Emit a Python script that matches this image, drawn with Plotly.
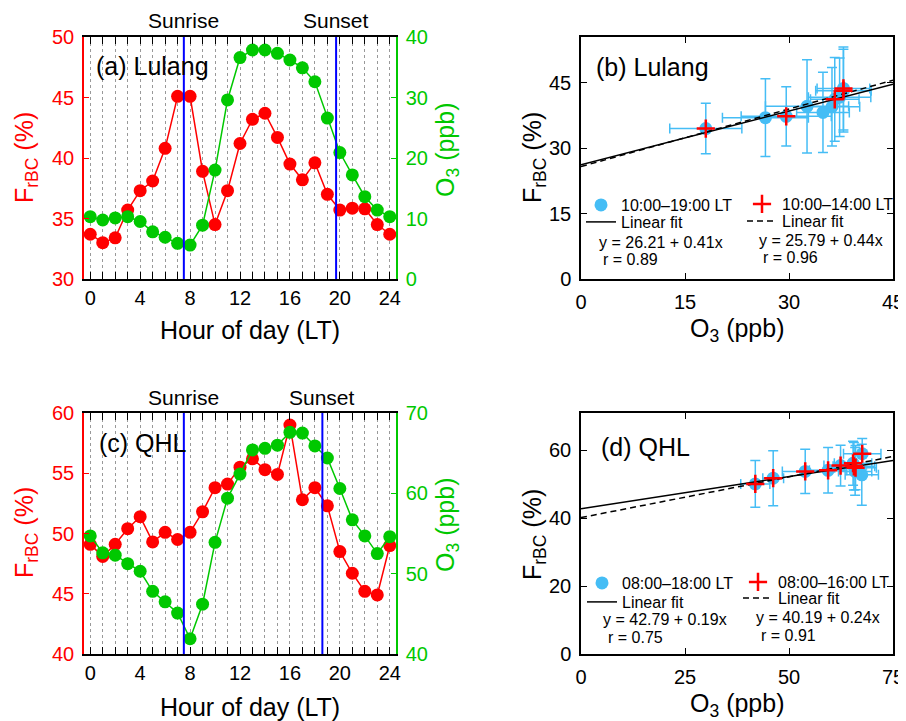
import plotly.graph_objects as go

OFF = 8  # page body margin of the written html
W, H = 906 - OFF, 721 - OFF  # figure reaches the right / bottom edge of the window


def px(x):
    return (x - OFF) / W


def py(y):
    return 1 - (y - OFF) / H


FONT = "Arial, Liberation Sans, sans-serif"
RED = "#FF0000"
GREEN = "#00C800"
BLUE = "#0000FF"
SKY = "#45BDF5"
GRID = "#999999"

# ---------------- data ----------------
hours = list(range(25))
hour_ticks = [0, 4, 8, 12, 16, 20, 24]
hour_labels = ["0", "4", "8", "12", "16", "20", "24"]

# (a) Lulang diurnal cycles
frbc_lulang = [33.7, 33.0, 33.4, 35.7, 37.3, 38.1, 40.8, 45.1, 45.1, 38.9, 34.5, 37.3, 41.2,
               43.2, 43.7, 41.7, 39.5, 38.2, 39.6, 37.0, 35.7, 35.85, 35.8, 34.5, 33.7]
o3_lulang = [10.3, 9.75, 10.1, 10.3, 9.5, 7.8, 6.9, 5.9, 5.6, 8.9, 18.0, 29.6, 36.6,
             37.85, 37.85, 37.3, 36.2, 34.9, 32.6, 26.6, 20.9, 17.2, 13.6, 11.4, 10.3]
sun_lulang = [7.5, 19.7]  # sunrise, sunset (hour)

# (c) QHL diurnal cycles
frbc_qhl = [49.1, 48.1, 49.1, 50.4, 51.4, 49.3, 50.1, 49.5, 50.1, 51.8, 53.8, 54.1, 55.5,
            56.2, 55.3, 54.9, 59.0, 52.8, 53.8, 52.3, 48.5, 46.7, 45.2, 44.9, 49.0]
o3_qhl = [54.7, 52.6, 52.3, 51.25, 50.3, 47.8, 46.5, 45.1, 41.9, 46.2, 53.9, 59.4, 62.4,
          65.4, 65.6, 66.0, 67.6, 67.5, 65.9, 64.4, 60.6, 56.7, 54.7, 52.5, 54.6]
sun_qhl = [7.5, 18.6]

# (b) Lulang scatter: 10:00-19:00 LT (blue) and 10:00-14:00 LT (red)
o3_b_all = [18.0, 29.6, 36.6, 37.85, 37.85, 37.3, 36.2, 34.9, 32.6, 26.6]
frbc_b_all = [34.5, 37.3, 41.2, 43.2, 43.7, 41.7, 39.5, 38.2, 39.6, 37.0]
o3_b_err = [5.2, 6.5, 3.5, 4.0, 3.8, 4.5, 4.0, 3.8, 6.0, 6.2]
frbc_b_err = [5.8, 6.8, 9.6, 9.5, 9.5, 9.0, 9.0, 9.2, 10.7, 8.9]
o3_b_sub = [18.0, 29.6, 36.6, 37.85, 37.85]
frbc_b_sub = [34.5, 37.3, 41.2, 43.2, 43.7]
fit_b_all = [26.21, 0.41]  # intercept, slope
fit_b_sub = [25.79, 0.44]
fit_b_x = [0, 45]

# (d) QHL scatter: 08:00-18:00 LT (blue) and 08:00-16:00 LT (red)
o3_d_all = [41.9, 46.2, 53.9, 59.4, 62.4, 65.4, 65.6, 66.0, 67.6, 67.5, 65.9]
frbc_d_all = [50.1, 51.8, 53.8, 54.1, 55.5, 56.2, 55.3, 54.9, 59.0, 52.8, 53.8]
o3_d_err = [3.5, 2.5, 5.5, 4.5, 4.0, 4.5, 5.0, 5.0, 4.5, 4.0, 4.0]
frbc_d_err = [6.9, 8.1, 6.5, 6.7, 6.0, 6.5, 7.0, 6.5, 4.5, 9.0, 7.0]
o3_d_sub = [41.9, 46.2, 53.9, 59.4, 62.4, 65.4, 65.6, 66.0, 67.6]
frbc_d_sub = [50.1, 51.8, 53.8, 54.1, 55.5, 56.2, 55.3, 54.9, 59.0]
fit_d_all = [42.79, 0.19]
fit_d_sub = [40.19, 0.24]
fit_d_x = [0, 75]

fig = go.Figure()


def diurnal(x, y, color, xa, ya):
    fig.add_trace(go.Scatter(
        x=x, y=y, mode="lines+markers", xaxis=xa, yaxis=ya, showlegend=False,
        line=dict(color=color, width=1.5),
        marker=dict(color=color, size=13), cliponaxis=False))


diurnal(hours, frbc_lulang, RED, "x", "y")
diurnal(hours, o3_lulang, GREEN, "x", "y2")
diurnal(hours, frbc_qhl, RED, "x3", "y4")
diurnal(hours, o3_qhl, GREEN, "x3", "y5")

DASH = "6px,4px"


def scatter_panel(xa, ya, ox, fy, ex, ey, sx, sy, fit_all, fit_sub, fx, lab_all, lab_sub, lgs):
    fig.add_trace(go.Scatter(
        x=ox, y=fy, mode="markers", xaxis=xa, yaxis=ya, name=lab_all, legend=lgs[0],
        marker=dict(color=SKY, size=13),
        error_x=dict(type="data", array=ex, color=SKY, thickness=1.5, width=5),
        error_y=dict(type="data", array=ey, color=SKY, thickness=1.5, width=5)))
    fig.add_trace(go.Scatter(
        x=fx, y=[fit_all[0] + fit_all[1] * v for v in fx], mode="lines", xaxis=xa, yaxis=ya,
        name="Linear fit", legend=lgs[1],
        line=dict(color="black", width=1.5)))
    fig.add_trace(go.Scatter(
        x=fx, y=[fit_sub[0] + fit_sub[1] * v for v in fx], mode="lines", xaxis=xa, yaxis=ya,
        name="Linear fit", legend=lgs[3],
        line=dict(color="black", width=1.5, dash=DASH)))
    fig.add_trace(go.Scatter(
        x=sx, y=sy, mode="markers", xaxis=xa, yaxis=ya, name=lab_sub, legend=lgs[2],
        marker=dict(symbol="cross-thin", size=13, color=RED, line=dict(color=RED, width=2.5))))


scatter_panel("x2", "y3", o3_b_all, frbc_b_all, o3_b_err, frbc_b_err, o3_b_sub, frbc_b_sub,
              fit_b_all, fit_b_sub, fit_b_x, "10:00–19:00 LT", "10:00–14:00 LT",
              ["legend", "legend2", "legend3", "legend4"])
scatter_panel("x4", "y6", o3_d_all, frbc_d_all, o3_d_err, frbc_d_err, o3_d_sub, frbc_d_sub,
              fit_d_all, fit_d_sub, fit_d_x, "08:00–18:00 LT", "08:00–16:00 LT",
              ["legend5", "legend6", "legend7", "legend8"])

TICKF = dict(family=FONT, size=20, color="black")


def hour_axis(dom_px, anchor):
    return dict(domain=[px(dom_px[0]), px(dom_px[1])], anchor=anchor, range=[-0.5, 24.5],
                tickmode="array", tickvals=hour_ticks, ticktext=hour_labels,
                ticks="inside", ticklen=7, tickwidth=1.2, tickcolor="black",
                showline=True, linecolor="black", linewidth=1.5, mirror="ticks",
                showgrid=True, gridcolor=GRID, griddash="dot", gridwidth=1,
                minor=dict(tick0=0, dtick=1, ticks="inside", ticklen=7, tickwidth=1.2,
                           tickcolor="black", showgrid=True, gridcolor=GRID,
                           griddash="dot", gridwidth=1),
                zeroline=False, tickfont=TICKF, automargin=False)


def color_yaxis(dom, rng, vals, color, side="left", overlay=None, anchor=None):
    d = dict(range=rng, tickmode="array", tickvals=vals, ticks="inside", ticklen=5,
             tickwidth=1.2, tickcolor=color, showline=True, linecolor=color, linewidth=1.5,
             showgrid=False, zeroline=False, side=side, anchor=anchor, automargin=False,
             tickfont=dict(family=FONT, size=20, color=color), ticklabelstandoff=4)
    if overlay:
        d["overlaying"] = overlay
    else:
        d["domain"] = [py(dom[1]), py(dom[0])]
    return d


def box_axis(dom, rng, vals, anchor, horizontal):
    d = dict(range=rng, tickmode="array", tickvals=vals, ticks="inside", ticklen=6,
             tickwidth=1.2, tickcolor="black", showline=True, linecolor="black",
             linewidth=1.5, mirror="ticks", showgrid=False, zeroline=False,
             tickfont=TICKF, anchor=anchor, ticklabelstandoff=4, automargin=False)
    if horizontal:
        d["domain"] = [px(dom[0]), px(dom[1])]
    else:
        d["domain"] = [py(dom[1]), py(dom[0])]
    return d


LEGF = dict(family=FONT, size=16, color="black")


def leg(x, y):
    return dict(x=px(x), y=py(y), xanchor="left", yanchor="middle", bgcolor="rgba(0,0,0,0)",
                borderwidth=0, font=LEGF, tracegroupgap=0, itemsizing="trace",
                traceorder="normal")


fig.update_layout(
    width=W, height=H, autosize=False,
    margin=dict(l=0, r=0, t=0, b=0, pad=0, autoexpand=False),
    paper_bgcolor="white", plot_bgcolor="white",
    font=dict(family=FONT, color="black"),
    xaxis=hour_axis([84, 396], "y"),
    yaxis=color_yaxis([37, 279], [30, 50], [30, 35, 40, 45, 50], RED, anchor="x"),
    yaxis2=color_yaxis(None, [0, 40], [0, 10, 20, 30, 40], GREEN, side="right",
                       overlay="y", anchor="x"),
    xaxis3=hour_axis([84, 396], "y4"),
    yaxis4=color_yaxis([413, 654], [40, 60], [40, 45, 50, 55, 60], RED, anchor="x3"),
    yaxis5=color_yaxis(None, [40, 70], [40, 50, 60, 70], GREEN, side="right",
                       overlay="y4", anchor="x3"),
    xaxis2=box_axis([581, 893], [0, 45], [0, 15, 30, 45], "y3", True),
    yaxis3=box_axis([37, 279], [0, 55.5], [0, 15, 30, 45], "x2", False),
    xaxis4=box_axis([581, 893], [0, 75], [0, 25, 50, 75], "y6", True),
    yaxis6=box_axis([413, 654], [0, 71], [0, 20, 40, 60], "x4", False),
    legend=leg(581, 205),
    legend2=leg(581, 222),
    legend3=leg(742, 204),
    legend4=leg(742, 221),
    legend5=leg(582, 583),
    legend6=leg(582, 602),
    legend7=leg(738, 582),
    legend8=leg(738, 598),
)

# sunrise / sunset lines
for xr, yr, vals in [("x", "y domain", sun_lulang), ("x3", "y4 domain", sun_qhl)]:
    for v in vals:
        fig.add_shape(type="line", xref=xr, yref=yr, x0=v, x1=v, y0=0, y1=1,
                      line=dict(color=BLUE, width=2), layer="above")

ann = []


def text(x, y, s, size=20, color="black", xanchor="center", xref="paper", angle=0):
    ann.append(dict(x=x if xref != "paper" else px(x), y=py(y), xref=xref, yref="paper",
                    text=s, showarrow=False, xanchor=xanchor, yanchor="middle",
                    textangle=angle, font=dict(family=FONT, size=size, color=color)))


for v, s in zip(sun_lulang, ["Sunrise", "Sunset"]):
    text(v, 20, s, size=21, xref="x")
for v, s in zip(sun_qhl, ["Sunrise", "Sunset"]):
    text(v, 397, s, size=21, xref="x3")

# panel labels
text(94, 66, "(a) Lulang", size=25, xanchor="left")
text(594, 67, "(b) Lulang", size=25, xanchor="left")
text(97, 443, "(c) QHL", size=25, xanchor="left")
text(599, 447, "(d) QHL", size=25, xanchor="left")

# axis titles
text(250, 330, "Hour of day (LT)", size=25)
text(250, 707, "Hour of day (LT)", size=25)
text(737, 330, "O<sub>3</sub> (ppb)", size=25)
text(737, 705, "O<sub>3</sub> (ppb)", size=25)
text(26, 158, "F<sub>rBC</sub> (%)", size=25, color=RED, angle=-90)
text(26, 533, "F<sub>rBC</sub> (%)", size=25, color=RED, angle=-90)
text(447, 150, "O<sub>3</sub> (ppb)", size=25, color=GREEN, angle=-90)
text(447, 525, "O<sub>3</sub> (ppb)", size=25, color=GREEN, angle=-90)
text(534, 158, "F<sub>rBC</sub> (%)", size=25, angle=-90)
text(534, 535, "F<sub>rBC</sub> (%)", size=25, angle=-90)

# fit equations
text(597, 242, "y = 26.21 + 0.41x", size=16, xanchor="left")
text(601, 259, "r = 0.89", size=16, xanchor="left")
text(757, 240, "y = 25.79 + 0.44x", size=16, xanchor="left")
text(761, 257, "r = 0.96", size=16, xanchor="left")
text(601, 619, "y = 42.79 + 0.19x", size=16, xanchor="left")
text(606, 637, "r = 0.75", size=16, xanchor="left")
text(754, 617, "y = 40.19 + 0.24x", size=16, xanchor="left")
text(759, 635, "r = 0.91", size=16, xanchor="left")

fig.update_layout(annotations=ann)

fig.write_html("out.html")
